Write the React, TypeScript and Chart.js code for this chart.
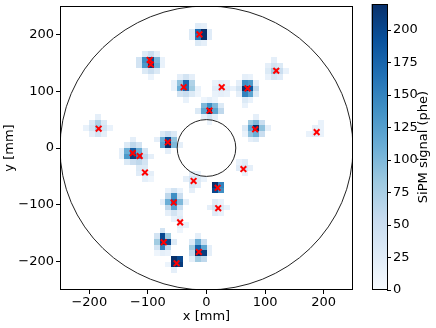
import React, { useEffect, useRef } from 'react';
import { Chart, registerables } from 'chart.js';

Chart.register(...registerables);

// ---------- data ----------
const axisTicks = [-200, -100, 0, 100, 200];
const colorbarTicks = [0, 25, 50, 75, 100, 125, 150, 175, 200];
const signalMax = 220;
const detectorRadius = 250;
const innerRadius = 50;
const cellPitch = 10;

// reconstructed positions (red crosses)
const recoX = [-12, -97, -95, -39, 26, 70, 119, 5, 83, 188, -184, -66, -126, -114, -105, -22, 19, 20, 63, -56, -45, -73, -13, -51];
const recoY = [200, 155, 147, 107, 107, 105, 136, 66, 33, 28, 34, 10, -9, -14, -43, -58, -70, -106, -37, -96, -131, -166, -183, -203];

// SiPM cells: [x centre mm, y centre mm, signal phe]
const sipmCells: [number, number, number][] = [
  // cluster near (-12,200)
  [-25, 205, 30], [-15, 205, 170], [-5, 205, 220], [5, 205, 25],
  [-25, 195, 30], [-15, 195, 160], [-5, 195, 220], [5, 195, 25],
  [-15, 215, 25], [-5, 215, 20], [-15, 185, 30], [-5, 185, 20],
  // (-96,150)
  [-115, 155, 40], [-105, 155, 140], [-95, 155, 200], [-85, 155, 100], [-75, 155, 15],
  [-115, 145, 40], [-105, 145, 130], [-95, 145, 215], [-85, 145, 110], [-75, 145, 15],
  [-105, 165, 30], [-95, 165, 50], [-85, 165, 20],
  [-105, 135, 30], [-95, 135, 50], [-85, 135, 30], [-95, 125, 12],
  // (-39,107)
  [-55, 115, 15], [-45, 115, 90], [-35, 115, 170], [-25, 115, 70],
  [-55, 105, 15], [-45, 105, 110], [-35, 105, 170], [-25, 105, 80], [-15, 105, 15],
  [-45, 95, 40], [-35, 95, 50], [-25, 95, 30], [-15, 95, 10],
  [-45, 125, 20], [-35, 125, 40], [-25, 125, 20], [-35, 85, 15],
  // (26,107)
  [15, 115, 15], [25, 115, 20], [35, 115, 15],
  [15, 105, 25], [25, 105, 40], [35, 105, 25],
  [15, 95, 15], [25, 95, 20], [35, 95, 15],
  // (70,105)
  [45, 105, 15], [55, 115, 20], [55, 105, 40], [55, 95, 20],
  [65, 125, 20], [75, 125, 15],
  [65, 115, 140], [75, 115, 130], [85, 115, 20],
  [65, 105, 220], [75, 105, 190], [85, 105, 60],
  [65, 95, 150], [75, 95, 120], [85, 95, 30],
  [65, 85, 30], [75, 85, 15], [65, 75, 15],
  // (119,136)
  [115, 155, 20],
  [105, 145, 20], [115, 145, 40], [125, 145, 30],
  [105, 135, 30], [115, 135, 80], [125, 135, 50], [135, 135, 15],
  [105, 125, 15], [115, 125, 35], [125, 125, 25],
  // (5,66)
  [5, 85, 20], [-5, 85, 10], [15, 85, 10],
  [-5, 75, 100], [5, 75, 140], [15, 75, 100], [25, 75, 30],
  [-15, 65, 30], [-5, 65, 120], [5, 65, 220], [15, 65, 120], [25, 65, 60],
  [-5, 55, 20], [5, 55, 40], [15, 55, 20], [5, 45, 12],
  // (83,33)
  [85, 55, 20],
  [75, 45, 80], [85, 45, 100], [95, 45, 50],
  [65, 35, 30], [75, 35, 120], [85, 35, 220], [95, 35, 90], [105, 35, 20],
  [65, 25, 15], [75, 25, 90], [85, 25, 110], [95, 25, 50],
  [75, 15, 20], [85, 15, 30],
  // (188,28)
  [195, 45, 15], [185, 35, 20], [195, 35, 15], [175, 25, 15], [185, 25, 25], [195, 25, 15],
  // (-184,34)
  [-185, 55, 20],
  [-195, 45, 30], [-185, 45, 70], [-175, 45, 30],
  [-205, 35, 15], [-195, 35, 40], [-185, 35, 80], [-175, 35, 40], [-165, 35, 15],
  [-195, 25, 20], [-185, 25, 40], [-175, 25, 20],
  // (-66,10)
  [-75, 25, 30], [-65, 25, 50], [-55, 25, 30],
  [-85, 15, 20], [-75, 15, 110], [-65, 15, 200], [-55, 15, 90],
  [-75, 5, 120], [-65, 5, 220], [-55, 5, 100], [-45, 5, 20],
  [-65, -5, 20],
  // (-120,-12)
  [-125, 15, 20],
  [-135, 5, 30], [-125, 5, 60], [-115, 5, 40],
  [-145, -5, 20], [-135, -5, 110], [-125, -5, 180], [-115, -5, 110], [-105, -5, 40],
  [-145, -15, 20], [-135, -15, 130], [-125, -15, 210], [-115, -15, 150], [-105, -15, 60], [-95, -15, 20],
  [-135, -25, 30], [-125, -25, 50], [-115, -25, 60], [-105, -25, 40],
  // (-105,-43)
  [-115, -35, 30], [-105, -35, 30],
  [-115, -45, 25], [-105, -45, 35], [-95, -45, 20],
  [-105, -55, 20], [-95, -55, 10],
  // (-22,-58)
  [-25, -45, 20], [-15, -45, 15],
  [-35, -55, 20], [-25, -55, 40], [-15, -55, 30], [-5, -55, 15],
  [-25, -65, 35], [-15, -65, 25], [-25, -75, 20],
  // (19,-70)
  [15, -65, 220], [25, -65, 150], [15, -75, 200], [25, -75, 140],
  // (20,-106)
  [15, -95, 25], [25, -95, 15],
  [5, -105, 20], [15, -105, 40], [25, -105, 30], [35, -105, 15],
  [15, -115, 25], [25, -115, 15],
  // (63,-37)
  [55, -25, 15], [65, -25, 25],
  [55, -35, 25], [65, -35, 35], [75, -35, 20], [65, -45, 15],
  // (-56,-96)
  [-65, -75, 15], [-55, -75, 40], [-45, -75, 15],
  [-65, -85, 60], [-55, -85, 140], [-45, -85, 50],
  [-75, -95, 20], [-65, -95, 110], [-55, -95, 170], [-45, -95, 100], [-35, -95, 20],
  [-65, -105, 60], [-55, -105, 120], [-45, -105, 50],
  [-65, -115, 20], [-55, -115, 40], [-45, -115, 20],
  // (-45,-131)
  [-55, -125, 15], [-45, -125, 25], [-45, -135, 20], [-35, -135, 15], [-45, -145, 10],
  // (-73,-166)
  [-75, -145, 40],
  [-85, -155, 40], [-75, -155, 200], [-65, -155, 80],
  [-85, -165, 80], [-75, -165, 210], [-65, -165, 200], [-55, -165, 30],
  [-85, -175, 40], [-75, -175, 150], [-65, -175, 60],
  [-85, -185, 10], [-75, -185, 20], [-65, -185, 15],
  // (-13,-183)
  [-15, -155, 20],
  [-25, -165, 30], [-15, -165, 110], [-5, -165, 50],
  [-25, -175, 80], [-15, -175, 180], [-5, -175, 120], [5, -175, 20],
  [-25, -185, 60], [-15, -185, 220], [-5, -185, 210], [5, -185, 20],
  [-25, -195, 20], [-15, -195, 80], [-5, -195, 60],
  // (-51,-203)
  [-55, -195, 220], [-45, -195, 200], [-55, -205, 220], [-45, -205, 210],
  [-55, -215, 20], [-65, -205, 12],
];

// ---------- colour map (matplotlib Blues) ----------
const BLUES = ['#f7fbff', '#deebf7', '#c6dbef', '#9ecae1', '#6baed6', '#4292c6', '#2171b5', '#08519c', '#08306b'];
const hex = (h: string) => [parseInt(h.slice(1, 3), 16), parseInt(h.slice(3, 5), 16), parseInt(h.slice(5, 7), 16)];
const BLUES_RGB = BLUES.map(hex);
function colorFor(q: number): string {
  const t = Math.max(0, Math.min(1, q / signalMax)) * (BLUES.length - 1);
  const i = Math.min(BLUES.length - 2, Math.floor(t));
  const f = t - i;
  const a = BLUES_RGB[i], b = BLUES_RGB[i + 1];
  const c = a.map((v, k) => Math.round(v + (b[k] - v) * f));
  return `rgb(${c[0]},${c[1]},${c[2]})`;
}

const FONT = 'DejaVu Sans';
const fmt = (v: any) => String(v).replace('-', '\u2212');

const cellsPlugin = {
  id: 'cells',
  beforeDatasetsDraw(chart: any) {
    const { ctx, chartArea, scales } = chart;
    const x = scales.x, y = scales.y;
    ctx.save();
    ctx.beginPath();
    ctx.rect(chartArea.left, chartArea.top, chartArea.width, chartArea.height);
    ctx.clip();
    for (const [cx, cy, q] of sipmCells) {
      const x0 = Math.round(x.getPixelForValue(cx - cellPitch / 2));
      const x1 = Math.round(x.getPixelForValue(cx + cellPitch / 2));
      const y0 = Math.round(y.getPixelForValue(cy + cellPitch / 2));
      const y1 = Math.round(y.getPixelForValue(cy - cellPitch / 2));
      ctx.fillStyle = colorFor(q);
      ctx.fillRect(x0, y0, x1 - x0, y1 - y0);
    }
    const ox = x.getPixelForValue(0), oy = y.getPixelForValue(0);
    ctx.strokeStyle = '#222';
    ctx.lineWidth = 1;
    for (const r of [detectorRadius, innerRadius]) {
      const rx = x.getPixelForValue(r) - ox;
      const ry = oy - y.getPixelForValue(r);
      ctx.beginPath();
      ctx.ellipse(ox, oy, rx, ry, 0, 0, Math.PI * 2);
      ctx.stroke();
    }
    ctx.restore();
  },
  afterDraw(chart: any) {
    const { ctx, chartArea } = chart;
    ctx.save();
    ctx.strokeStyle = '#000';
    ctx.lineWidth = 1;
    ctx.strokeRect(Math.round(chartArea.left) + 0.5, Math.round(chartArea.top) + 0.5,
      Math.round(chartArea.width) - 1, Math.round(chartArea.height) - 1);
    ctx.restore();
  },
};

const cbPlugin = {
  id: 'cbframe',
  afterDraw(chart: any) {
    const { ctx, chartArea } = chart;
    ctx.save();
    ctx.strokeStyle = '#000';
    ctx.lineWidth = 1;
    ctx.strokeRect(Math.round(chartArea.left) + 0.5, Math.round(chartArea.top) + 0.5,
      Math.round(chartArea.width) - 1, Math.round(chartArea.height) - 1);
    ctx.fillStyle = '#000';
    ctx.font = `13px "${FONT}"`;
    ctx.textAlign = 'center';
    ctx.textBaseline = 'middle';
    ctx.translate(424, (chartArea.top + chartArea.bottom) / 2);
    ctx.rotate(-Math.PI / 2);
    ctx.fillText('SiPM signal (phe)', 0, 0);
    ctx.restore();
  },
};

const tickGrid = {
  display: true,
  drawOnChartArea: false,
  drawTicks: true,
  tickLength: 4,
  tickColor: '#000',
  tickWidth: 1,
};

const noPad = (s: any) => { s.paddingTop = 0; s.paddingBottom = 0; s.paddingLeft = 0; s.paddingRight = 0; };

export default function App() {
  const mainRef = useRef<HTMLCanvasElement>(null);
  const cbRef = useRef<HTMLCanvasElement>(null);

  useEffect(() => {
    Chart.defaults.font.family = FONT;
    const main = new Chart(mainRef.current!, {
      type: 'scatter',
      data: {
        datasets: [{
          data: recoX.map((v, i) => ({ x: v, y: recoY[i] })),
          pointStyle: 'crossRot',
          pointRadius: 4,
          pointHoverRadius: 4,
          borderColor: '#ff0000',
          backgroundColor: '#ff0000',
          pointBorderWidth: 2,
        }],
      },
      options: {
        animation: false,
        responsive: false,
        devicePixelRatio: 1,
        layout: { padding: { left: 0, top: 4, right: 83, bottom: 0 } },
        plugins: { legend: { display: false }, tooltip: { enabled: false } },
        scales: {
          x: {
            type: 'linear', min: -detectorRadius, max: detectorRadius,
            afterBuildTicks: (s: any) => { s.ticks = axisTicks.map(v => ({ value: v })); },
            afterFit: (s: any) => { s.height = 38; noPad(s); },
            ticks: { callback: fmt, color: '#000', font: { size: 13 }, padding: 1, maxRotation: 0, autoSkip: false },
            grid: tickGrid,
            border: { display: false },
            title: { display: true, text: 'x [mm]', color: '#000', font: { size: 13 }, padding: { top: 0, bottom: 4 } },
          },
          y: {
            type: 'linear', min: -detectorRadius, max: detectorRadius,
            afterBuildTicks: (s: any) => { s.ticks = axisTicks.map(v => ({ value: v })); },
            afterFit: (s: any) => { s.width = 60; noPad(s); },
            ticks: { callback: fmt, color: '#000', font: { size: 13 }, padding: 2, autoSkip: false },
            grid: tickGrid,
            border: { display: false },
            title: { display: true, text: 'y [mm]', color: '#000', font: { size: 13 }, padding: { top: 2, bottom: 0 } },
          },
        },
      },
      plugins: [cellsPlugin],
    } as any);

    const cb = new Chart(cbRef.current!, {
      type: 'bar',
      data: {
        labels: [''],
        datasets: [{
          data: [signalMax],
          barPercentage: 1,
          categoryPercentage: 1,
          borderWidth: 0,
          backgroundColor: (c: any) => {
            const { chart } = c;
            const area = chart.chartArea;
            if (!area) return BLUES[4];
            const g = chart.ctx.createLinearGradient(0, area.bottom, 0, area.top);
            BLUES.forEach((col, i) => g.addColorStop(i / (BLUES.length - 1), col));
            return g;
          },
        }],
      },
      options: {
        animation: false,
        responsive: false,
        devicePixelRatio: 1,
        layout: { padding: { left: 371.5, top: 4, right: 0, bottom: 38 } },
        plugins: { legend: { display: false }, tooltip: { enabled: false } },
        scales: {
          x: { display: false },
          y: {
            position: 'right', min: 0, max: signalMax,
            afterBuildTicks: (s: any) => { s.ticks = colorbarTicks.map(v => ({ value: v })); },
            afterFit: (s: any) => { s.width = 49; noPad(s); },
            ticks: { color: '#000', font: { size: 13 }, padding: 2, autoSkip: false },
            grid: tickGrid,
            border: { display: false },
          },
        },
      },
      plugins: [cbPlugin],
    } as any);

    return () => { main.destroy(); cb.destroy(); };
  }, []);

  return (
    <div style={{ position: 'absolute', left: 0, top: 0, width: 436, height: 328, background: '#fff' }}>
      <canvas ref={mainRef} width={436} height={328} style={{ position: 'absolute', left: 0, top: 0 }} />
      <canvas ref={cbRef} width={436} height={328} style={{ position: 'absolute', left: 0, top: 0 }} />
    </div>
  );
}
